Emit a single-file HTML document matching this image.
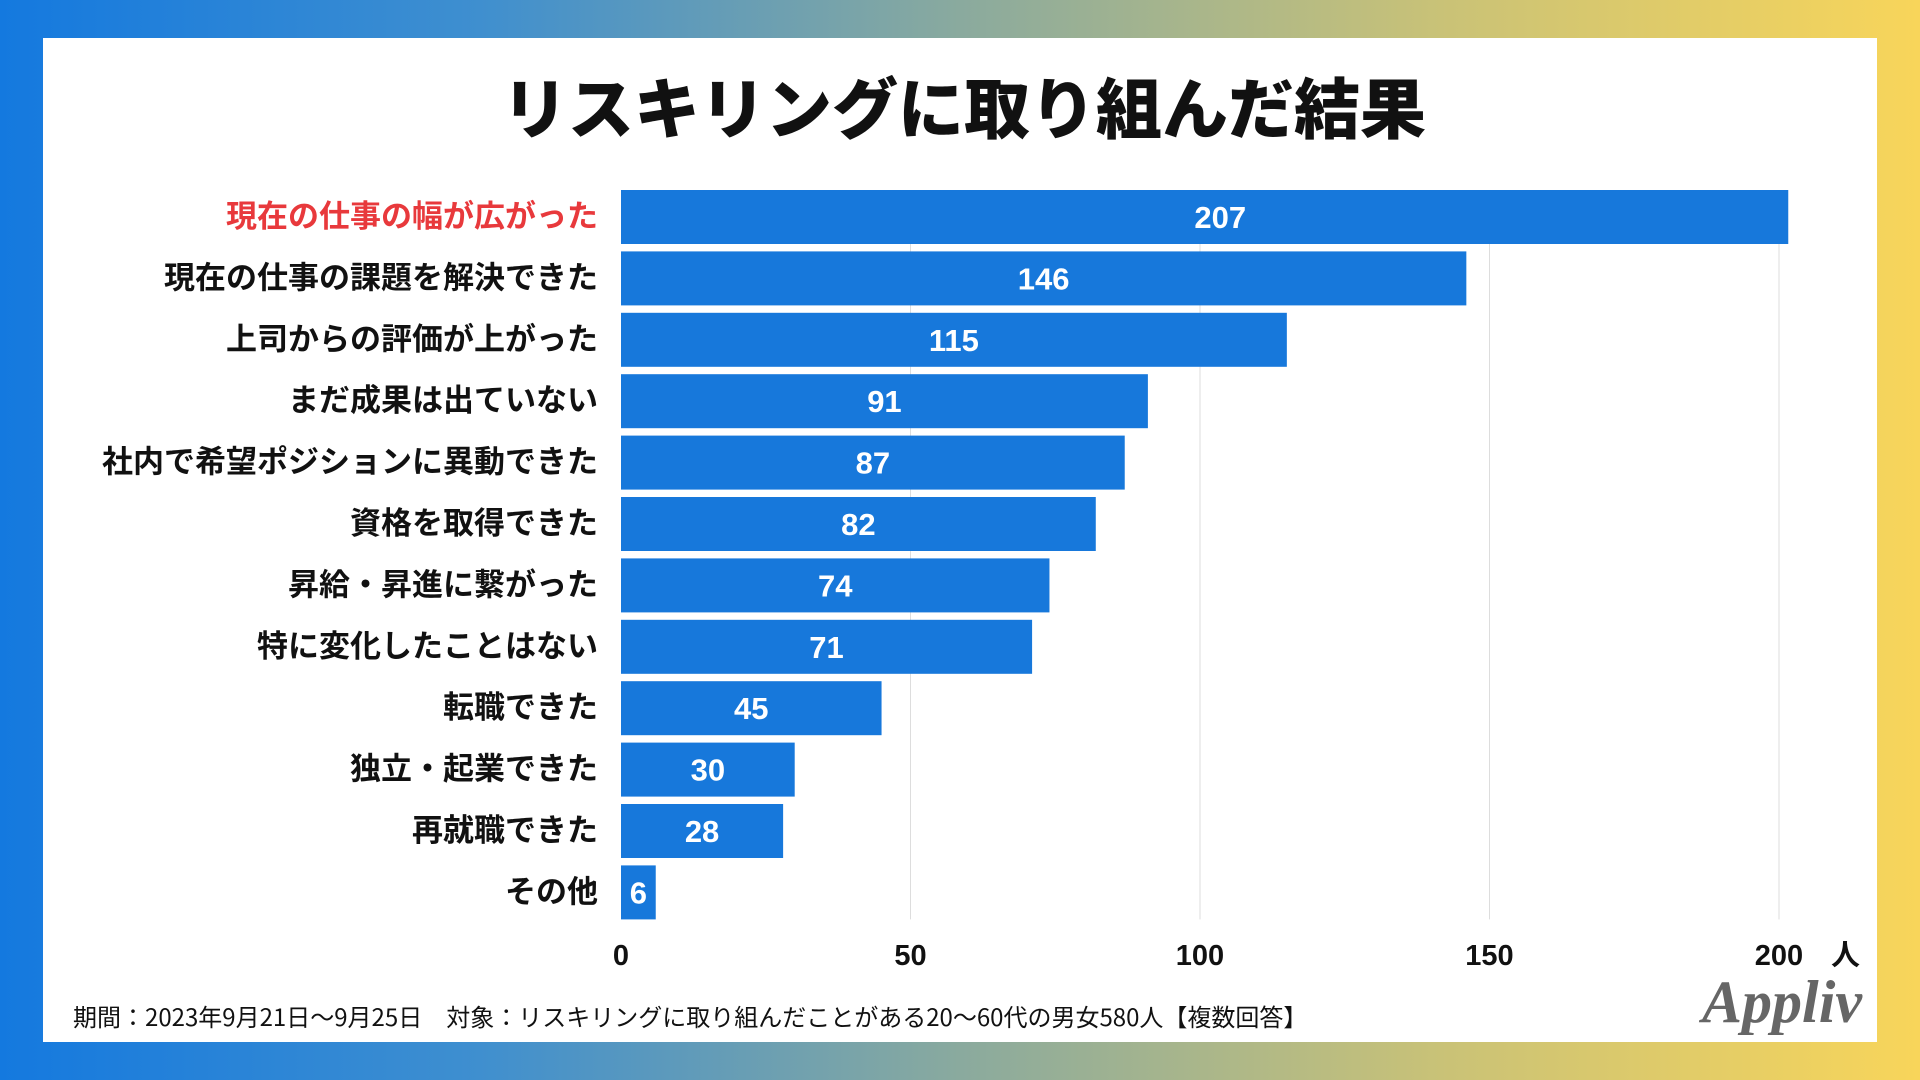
<!DOCTYPE html>
<html><head><meta charset="utf-8">
<style>
html,body{margin:0;padding:0;width:1920px;height:1080px;overflow:hidden}
body{background:linear-gradient(90deg,#1479df 0%,#3f8fcf 25%,#8aaa9e 50%,#c9c277 75%,#f8d55a 100%);font-family:"Liberation Sans","Noto Sans CJK JP",sans-serif}
#card{position:absolute;left:43px;top:38px;width:1834px;height:1004px;background:#fff}
</style></head><body>
<div id="card"></div>
<svg id="chart" width="1920" height="1080" style="position:absolute;left:0;top:0">
<text x="964" y="133" text-anchor="middle" font-size="66" font-weight="900" fill="#111" font-family="'Noto Sans CJK JP',sans-serif">リスキリングに取り組んだ結果</text>
<g id="grid"></g><g id="bars"></g><g id="labels"></g><g id="ticks"></g>
<text x="1860" y="965" text-anchor="end" font-size="29" font-weight="700" fill="#111" font-family="'Noto Sans CJK JP',sans-serif">人</text>
<text x="73" y="1026" font-size="24" fill="#111" font-family="'Noto Sans CJK JP',sans-serif">期間：2023年9月21日〜9月25日　対象：リスキリングに取り組んだことがある20〜60代の男女580人【複数回答】</text>
<text x="1862" y="1022" text-anchor="end" font-size="60" font-style="italic" font-weight="700" fill="#666" font-family="'Liberation Serif',serif">Appliv</text>
</svg>
<script>
const categories=["現在の仕事の幅が広がった","現在の仕事の課題を解決できた","上司からの評価が上がった","まだ成果は出ていない","社内で希望ポジションに異動できた","資格を取得できた","昇給・昇進に繋がった","特に変化したことはない","転職できた","独立・起業できた","再就職できた","その他"];
const values=[207,146,115,91,87,82,74,71,45,30,28,6];
const tickValues=[0,50,100,150,200];
const x0=621,pxPer=5.79,maxV=201.6,yTop=190,pitch=61.4,bh=54;
const X=v=>x0+Math.min(v,maxV)*pxPer;
const Y=i=>yTop+i*pitch;
const ns="http://www.w3.org/2000/svg";
const mk=(t,a)=>{const e=document.createElementNS(ns,t);for(const k in a)e.setAttribute(k,a[k]);return e;};
const grid=document.getElementById('grid'),bars=document.getElementById('bars'),labels=document.getElementById('labels'),ticks=document.getElementById('ticks');
tickValues.forEach(v=>{
 if(v>0){const l=mk('line',{x1:X(v),x2:X(v),y1:yTop,y2:Y(categories.length-1)+bh,stroke:'#ddd','stroke-width':1});
 
 
 grid.appendChild(l);}
 const t=mk('text',{x:X(v),y:965,'text-anchor':'middle','font-size':29,'font-weight':700,fill:'#111'});
 t.textContent=v;
 
 
 ticks.appendChild(t);
});
categories.forEach((c,i)=>{
 const r=mk('rect',{x:x0,y:Y(i),width:X(values[i])-x0,height:bh,fill:'#1778db'});
 
 
 bars.appendChild(r);
 const v=mk('text',{x:(x0+x0+values[i]*pxPer)/2,y:Y(i)+bh/2+11,'text-anchor':'middle','font-size':31,'font-weight':700,fill:'#fff'});
 v.textContent=values[i];
 
 
 bars.appendChild(v);
 const l=mk('text',{x:598,y:Y(i)+bh/2+10,'text-anchor':'end','font-size':31,'font-weight':700,fill:i===0?'#e8393c':'#111','font-family':"'Noto Sans CJK JP',sans-serif"});
 l.textContent=c;
 
 
 labels.appendChild(l);
});
</script>
</body></html>
